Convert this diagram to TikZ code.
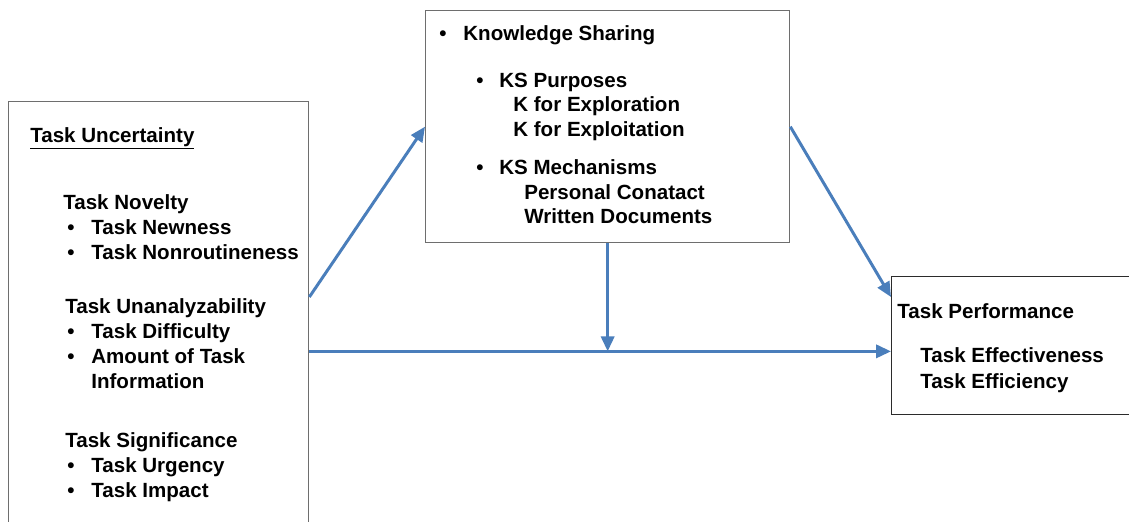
\documentclass[tikz,border=0pt]{standalone}
\usepackage{fontspec}
\setmainfont{Liberation Sans}
\usetikzlibrary{positioning, arrows.meta, calc}
\definecolor{flechas}{HTML}{4A7EBB}
\definecolor{marco}{HTML}{6E6E6E}
\definecolor{marcooscuro}{HTML}{2B2B2B}

\begin{document}
\begin{tikzpicture}[x=0.02cm, y=-0.02cm,
    font=\fontsize{11.7}{14.2}\selectfont\bfseries,
    caja/.style={draw=marco, line width=0.8pt, anchor=north west, inner sep=0},
    linea/.style={anchor=base west, inner sep=0},
    flecha/.style={draw=flechas, line width=1.7pt, -{Triangle[length=8.5pt,width=7.5pt]}}]
  \useasboundingbox (0,0) rectangle (1129,521);
  \clip (0,0) rectangle (1129,521);
  % cajas
  \node[caja, minimum width=6cm, minimum height=8.8cm] (tu) at (8,101) {};
  \node[caja, minimum width=7.28cm, minimum height=4.64cm] (ks) at (425,10) {};
  \node[caja, draw=marcooscuro, minimum width=5cm, minimum height=2.76cm] (tp) at (891,276) {};
  % caja izquierda
  \node[linea] (unc) at (30,142) {\underline{Task Uncertainty}};
  \foreach \i/\x/\y/\t in {1/63/209/Task Novelty, 2/65/313/Task Unanalyzability,
                          3/91/388/Information, 4/65/447/Task Significance}
    \node[linea] (tu\i) at (\x,\y) {\t};
  \foreach \i/\y/\t in {1/234/Task Newness, 2/259/Task Nonroutineness,
                        3/338/Task Difficulty, 4/363/Amount of Task,
                        5/472/Task Urgency, 6/497/Task Impact} {
    \node[linea] (tub\i) at (67,\y) {\textbullet};
    \node[linea] (tui\i) at (91,\y) {\t};
  }
  % caja superior
  \node[linea] (ksb0) at (439,40) {\textbullet};
  \node[linea] (ks0) at (463,40) {Knowledge Sharing};
  \foreach \i/\y/\t in {1/87/KS Purposes, 2/174/KS Mechanisms} {
    \node[linea] (ksb\i) at (476,\y) {\textbullet};
    \node[linea] (ks\i) at (499,\y) {\t};
  }
  \foreach \i/\x/\y/\t in {1/513/111/K for Exploration, 2/513/136/K for Exploitation,
                          3/524/199/Personal Conatact, 4/524/223/Written Documents}
    \node[linea] (kss\i) at (\x,\y) {\t};
  % caja derecha
  \node[linea] (tp0) at (897,318) {Task Performance};
  \node[linea] (tp1) at (920,362) {Task Effectiveness};
  \node[linea] (tp2) at (920,388) {Task Efficiency};
  % flechas
  \coordinate (cruce) at ($(ks.south)+(0,108)$);
  \draw[flecha] ($(tu.north east)+(0,196)$) -- (ks.west);
  \draw[flecha] (ks.east) -- ($(tp.north west)+(0,21)$);
  \draw[flecha] (ks.south) -- (cruce);
  \draw[flecha] (tu.north east |- cruce) -- (tp.west |- cruce);
\end{tikzpicture}
\end{document}
